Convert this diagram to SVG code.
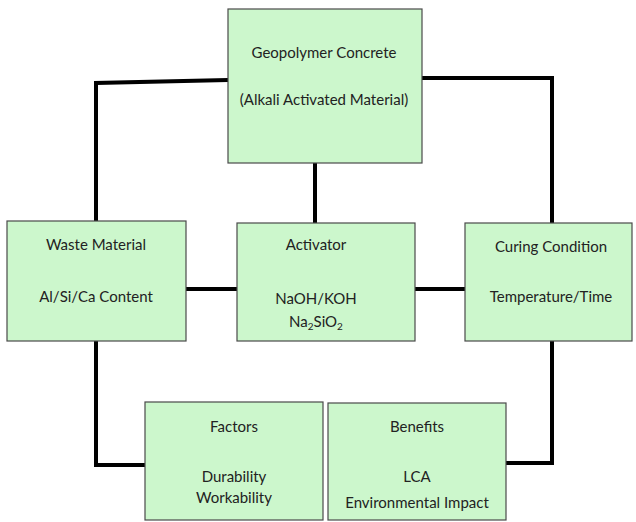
<svg xmlns="http://www.w3.org/2000/svg" width="636" height="522" viewBox="0 0 636 522">
<style>
.box{fill:#ccf7cc;stroke:#4a4a4a;stroke-width:1.2}
.t{font-family:Lato,"Open Sans",sans-serif;font-size:15px;fill:#222;text-anchor:middle}
.c{fill:none;stroke:#000;stroke-width:4;stroke-linejoin:miter}
</style>
<rect width="636" height="522" fill="#fff"/>
<g id="connectors">
<polyline class="c" points="228,80 96,83 96,222"/>
<polyline class="c" points="422,78 552,78 552,223"/>
<line class="c" x1="315" y1="163" x2="315" y2="223"/>
<line class="c" x1="186" y1="289" x2="237" y2="289"/>
<line class="c" x1="415" y1="289" x2="465" y2="289"/>
<polyline class="c" points="96,341 96,465 145,465"/>
<polyline class="c" points="552,341 552,463 506,463"/>
</g>
<g id="geopolymer">
<rect class="box" x="228" y="9" width="194" height="154"/>
<text class="t" x="324" y="58">Geopolymer Concrete</text>
<text class="t" x="324" y="105">(Alkali Activated Material)</text>
</g>
<g id="waste">
<rect class="box" x="7" y="221" width="179" height="120"/>
<text class="t" x="96" y="250">Waste Material</text>
<text class="t" x="96" y="302">Al/Si/Ca Content</text>
</g>
<g id="activator">
<rect class="box" x="237" y="223" width="178" height="118"/>
<text class="t" x="316" y="250">Activator</text>
<text class="t" x="316" y="304">NaOH/KOH</text>
<text class="t" x="316" y="327">Na<tspan font-size="10" dy="3">2</tspan><tspan dy="-3">SiO</tspan><tspan font-size="10" dy="3">2</tspan></text>
</g>
<g id="curing">
<rect class="box" x="465" y="223" width="167" height="118"/>
<text class="t" x="551" y="252">Curing Condition</text>
<text class="t" x="551" y="302">Temperature/Time</text>
</g>
<g id="factors">
<rect class="box" x="145" y="402" width="178" height="118"/>
<text class="t" x="234" y="432">Factors</text>
<text class="t" x="234" y="482">Durability</text>
<text class="t" x="234" y="503">Workability</text>
</g>
<g id="benefits">
<rect class="box" x="328" y="403" width="178" height="117"/>
<text class="t" x="417" y="432">Benefits</text>
<text class="t" x="417" y="482">LCA</text>
<text class="t" x="417" y="508">Environmental Impact</text>
</g>
</svg>
